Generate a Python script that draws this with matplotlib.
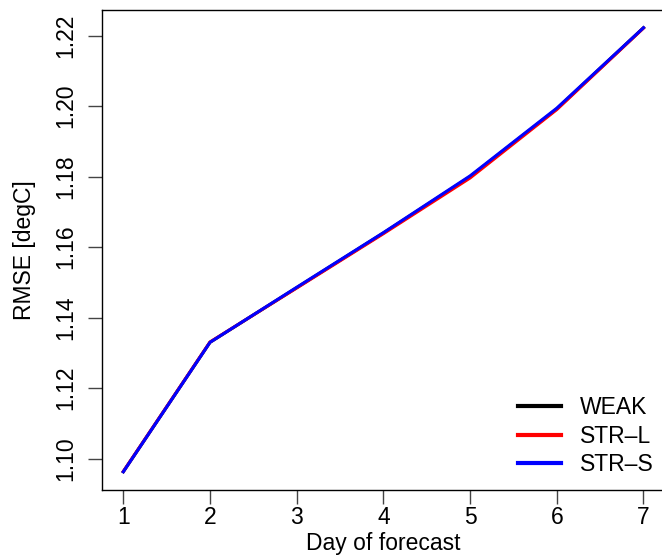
import matplotlib
matplotlib.use("Agg")
import matplotlib.pyplot as plt

plt.rcParams['font.family'] = ['Liberation Sans', 'DejaVu Sans']

days = [1, 2, 3, 4, 5, 6, 7]
weak = [1.0963, 1.1330, 1.1485, 1.1640, 1.1800, 1.1992, 1.2222]
str_l = [1.0964, 1.1331, 1.1484, 1.1638, 1.1796, 1.1990, 1.2221]
str_s = [1.0963, 1.1330, 1.1486, 1.1641, 1.1802, 1.1994, 1.2222]
series_names = ["WEAK", "STR\u2013L", "STR\u2013S"]
series_colors = ["black", "red", "blue"]
yticks = [1.10, 1.12, 1.14, 1.16, 1.18, 1.20, 1.22]

FS = 16.5

fig = plt.figure(figsize=(6.62, 5.56), dpi=100)
ax = fig.add_axes([102.5 / 662, (556 - 489.5) / 556, 561.8 / 662, 479.5 / 556])

for vals, name, col in zip([weak, str_l, str_s], series_names, series_colors):
    ax.plot(days, vals, color=col, lw=2.2, label=name)

ax.margins(x=0.04, y=0.04)
ax.set_xticks(days)
ax.set_yticks(yticks)
ax.set_yticklabels([f"{v:.2f}" for v in yticks], rotation=90, va='center')
ax.tick_params(axis='both', labelsize=FS, length=10, width=1, color='#444444')
ax.tick_params(axis='x', pad=2)
ax.tick_params(axis='y', pad=8)
for s in ax.spines.values():
    s.set_linewidth(1.0)
ax.set_xlabel("Day of forecast", fontsize=FS, labelpad=2)
ax.set_ylabel("RMSE [degC]", fontsize=FS, labelpad=13)

leg = ax.legend(loc='lower right', bbox_to_anchor=(0.997, 0.008), frameon=False,
                fontsize=FS, handlelength=1.9, handletextpad=0.8,
                labelspacing=0.25, borderaxespad=0)
for h in leg.get_lines():
    h.set_linewidth(3)

fig.savefig("out.png", dpi=100)
